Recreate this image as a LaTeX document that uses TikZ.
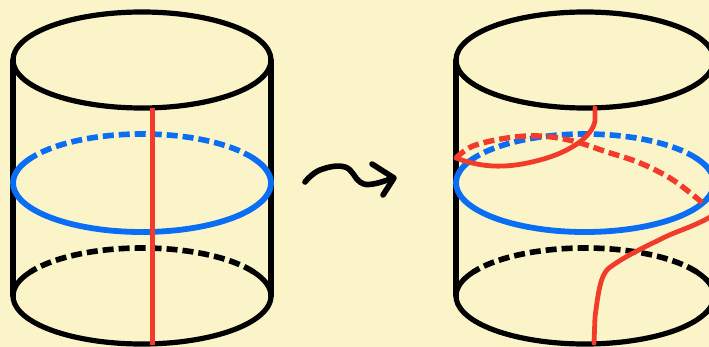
\documentclass[tikz,border=0pt]{standalone}
\definecolor{paper}{HTML}{FAF4C8}
\definecolor{ringblue}{HTML}{0A6EF5}
\definecolor{strandred}{HTML}{F23B2A}
\tikzset{
  ink/.style={line width=5.2pt,line cap=round,line join=round},
  backdash/.style={line width=5.6pt,line cap=butt,dash pattern=on 11pt off 5pt},
  strand/.style={line width=4.8pt,strandred,line cap=round,line join=round},
}
\newcommand{\cyl}[1]{%
  \draw[ink,black] (#1-129,296) -- (#1-129,60) (#1+129,60) -- (#1+129,296);
  \draw[ink,black] (#1,60) ellipse[x radius=129pt,y radius=48pt];
  \draw[backdash,ringblue] (#1,183) ++(30:129pt and 49pt) arc[start angle=30,end angle=150,x radius=129pt,y radius=49pt];
  \draw[ink,ringblue,line width=5.8pt] (#1,183) ++(150:129pt and 49pt) arc[start angle=150,end angle=390,x radius=129pt,y radius=49pt];
  \draw[backdash,black] (#1,296) ++(30:129pt and 48pt) arc[start angle=30,end angle=150,x radius=129pt,y radius=48pt];
  \draw[ink,black] (#1,296) ++(150:129pt and 48pt) arc[start angle=150,end angle=390,x radius=129pt,y radius=48pt];
}
\begin{document}
\begin{tikzpicture}[x=1pt,y=-1pt]
\useasboundingbox (0,0) rectangle (709,347);
\fill[paper] (0,0) rectangle (709,347);
\clip (0,0) rectangle (709,347);
\cyl{142}
\draw[strand,line cap=butt,line width=5.6pt] (152.5,108) -- (152.5,345);
\cyl{585}
\draw[strand,line cap=butt,line width=5.4pt,dash pattern=on 11pt off 5pt] plot[smooth,tension=0.6] coordinates {(456,158) (473,146) (507,138) (540,136) (573,141) (607,152) (640,163) (673,180) (705,205)};
\draw[strand] (595,108) -- (595,121) .. controls (592,137) and (570,152) .. (540,160) .. controls (510,168) and (485,169) .. (456,158);
\draw[strand] (712,216) .. controls (695,226) and (680,230) .. (665,237) .. controls (645,247) and (625,256) .. (609,268) .. controls (600,275) and (598,295) .. (595,317) -- (594,343);
\draw[ink,black,line width=5.6pt] plot[smooth,tension=0.7] coordinates {(305,182) (320,170) (345,167) (360,182) (373,184) (393,178)};
\draw[ink,black,line width=5.6pt] (372,164) -- (394,178) -- (383,195);
\end{tikzpicture}
\end{document}
